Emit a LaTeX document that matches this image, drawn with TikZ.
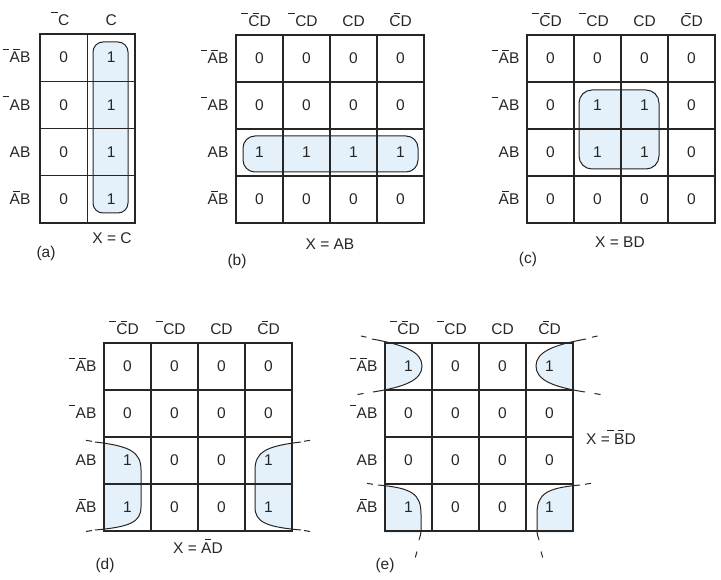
\documentclass[tikz,border=0pt]{standalone}
\usepackage{fontspec}
\setmainfont{Liberation Sans}
\newcommand\ov[1]{\makebox[0pt][r]{\smash{\rule[13.3pt]{6.5pt}{0.7pt}}\kern0.5pt}#1}
\definecolor{kfill}{HTML}{E4F1FB}
\definecolor{kline}{HTML}{262626}
\newcommand\kfour[4]{%
  \foreach \vals [count=\r] in {#4} {
    \foreach \v [count=\c] in \vals {
      \node[txt] (#1-\r-\c) at ({#2+47*(\c-0.5)},{#3+47*(\r-0.5)}) {\v};
    }
  }
  \foreach \i in {1,2,3} {
    \draw[grid] ({#2+47*\i},#3) -- ({#2+47*\i},{#3+188});
    \draw[grid] (#2,{#3+47*\i}) -- ({#2+188},{#3+47*\i});
  }
  \draw[frame] (#2,#3) rectangle ({#2+188},{#3+188});
  \node[txt] (#1-h1) at ({#2+23.5},{#3-13.5}) {\ov{C}\ov{D}};
  \node[txt] (#1-h2) at ({#2+70.5},{#3-13.5}) {\ov{C}D};
  \node[txt] (#1-h3) at ({#2+117.5},{#3-13.5}) {CD};
  \node[txt] (#1-h4) at ({#2+164.5},{#3-13.5}) {C\ov{D}};
  \node[txt] (#1-l1) at ({#2-18},{#3+23.5}) {\ov{A}\ov{B}};
  \node[txt] (#1-l2) at ({#2-18},{#3+70.5}) {\ov{A}B};
  \node[txt] (#1-l3) at ({#2-18},{#3+117.5}) {AB};
  \node[txt] (#1-l4) at ({#2-18},{#3+164.5}) {A\ov{B}};
}
\begin{document}
\begin{tikzpicture}[x=1pt,y=-1pt,
  txt/.style={font=\fontsize{15.5}{18}\selectfont, inner sep=0pt, text=kline},
  grid/.style={draw=kline, line width=1.1pt},
  frame/.style={draw=kline, line width=1.8pt},
  loopline/.style={draw=kline, line width=1pt},
  dashmark/.style={draw=kline, line width=1pt}]
\useasboundingbox (0,0) rectangle (721,580);

% ---------- (a) ----------
\fill[kfill, rounded corners=10pt] (93,42) rectangle (128,213);
\foreach \r/\p/\q in {1/0/1,2/0/1,3/0/1,4/0/1} {
  \node[txt] (a-\r-1) at (63.75,{34+47.2*(\r-0.5)}) {\p};
  \node[txt] (a-\r-2) at (111.25,{34+47.2*(\r-0.5)}) {\q};
}
\draw[grid] (87.5,34) -- (87.5,222.8);
\foreach \i in {1,2,3} { \draw[grid] (40,{34+47.2*\i}) -- (135,{34+47.2*\i}); }
\draw[frame] (40,34) rectangle (135,222.8);
\draw[loopline, rounded corners=10pt] (93,42) rectangle (128,213);
\node[txt] (a-h1) at (63.75,20.5) {\ov{C}};
\node[txt] (a-h2) at (111.25,20.5) {C};
\node[txt] (a-l1) at (20,57.6) {\ov{A}\ov{B}};
\node[txt] (a-l2) at (20,104.8) {\ov{A}B};
\node[txt] (a-l3) at (20,152) {AB};
\node[txt] (a-l4) at (20,199.2) {A\ov{B}};
\node[txt] (a-x) at (112,238) {X = C};
\node[txt] (a-cap) at (46,253) {(a)};

% ---------- (b) ----------
\fill[kfill, rounded corners=12pt] (243,136) rectangle (418,172);
\kfour{b}{236}{35}{{0,0,0,0},{0,0,0,0},{1,1,1,1},{0,0,0,0}}
\draw[loopline, rounded corners=12pt] (243,136) rectangle (418,172);
\node[txt] (b-x) at (330,244) {X = AB};
\node[txt] (b-cap) at (237,261) {(b)};

% ---------- (c) ----------
\fill[kfill, rounded corners=13pt] (579,90) rectangle (659,169);
\kfour{c}{527}{35}{{0,0,0,0},{0,1,1,0},{0,1,1,0},{0,0,0,0}}
\draw[loopline, rounded corners=13pt] (579,90) rectangle (659,169);
\node[txt] (c-x) at (620,242) {X = BD};
\node[txt] (c-cap) at (528,259) {(c)};

% ---------- (d) ----------
\begin{scope}
  \clip (104,343) rectangle (292,531);
  \fill[kfill] (95,442) .. controls (130,446) and (141,452) .. (141,470) -- (141,507)
     .. controls (141,522) and (130,527) .. (95,530) -- (80,530) -- (80,442) -- cycle;
  \fill[kfill] (301,442) .. controls (266,446) and (255,452) .. (255,470) -- (255,507)
     .. controls (255,522) and (266,527) .. (301,530) -- (320,530) -- (320,442) -- cycle;
\end{scope}
\kfour{d}{104}{343}{{0,0,0,0},{0,0,0,0},{1,0,0,1},{1,0,0,1}}
\draw[loopline] (95,442) .. controls (130,446) and (141,452) .. (141,470) -- (141,507)
     .. controls (141,522) and (130,527) .. (95,530);
\draw[loopline] (301,442) .. controls (266,446) and (255,452) .. (255,470) -- (255,507)
     .. controls (255,522) and (266,527) .. (301,530);
\draw[dashmark] (92,441.3) -- (86,440.3);
\draw[dashmark] (92,530.5) -- (86,531.5);
\draw[dashmark] (304,441.3) -- (310,440.3);
\draw[dashmark] (304,530.5) -- (310,531.5);
\node[txt] (d-x) at (198,548) {X = A\ov{D}};
\node[txt] (d-cap) at (105,565) {(d)};

% ---------- (e) ----------
\begin{scope}
  \clip (385,343) rectangle (573,532);
  \fill[kfill] (372,339) .. controls (405,345) and (422,352) .. (422,366)
     .. controls (422,380) and (405,387) .. (373,392) -- (360,392) -- (360,339) -- cycle;
  \fill[kfill] (586,339) .. controls (553,345) and (536,352) .. (536,366)
     .. controls (536,380) and (553,387) .. (585,392) -- (600,392) -- (600,339) -- cycle;
  \fill[kfill] (378,485) .. controls (412,488) and (421,494) .. (421,514) -- (421,530)
     .. controls (421,534) and (420,537) .. (419,540) -- (370,545) -- (370,485) -- cycle;
  \fill[kfill] (580,485) .. controls (546,488) and (537,494) .. (537,514) -- (537,530)
     .. controls (537,534) and (538,537) .. (539,540) -- (590,545) -- (590,485) -- cycle;
\end{scope}
\kfour{e}{385}{343}{{1,0,0,1},{0,0,0,0},{0,0,0,0},{1,0,0,1}}
\draw[loopline] (372,339) .. controls (405,345) and (422,352) .. (422,366)
     .. controls (422,380) and (405,387) .. (373,392);
\draw[loopline] (586,339) .. controls (553,345) and (536,352) .. (536,366)
     .. controls (536,380) and (553,387) .. (585,392);
\draw[loopline] (378,485) .. controls (412,488) and (421,494) .. (421,514) -- (421,530)
     .. controls (421,534) and (420,537) .. (419,540);
\draw[loopline] (580,485) .. controls (546,488) and (537,494) .. (537,514) -- (537,530)
     .. controls (537,534) and (538,537) .. (539,540);
\draw[dashmark] (361,336) -- (366.5,337.2);
\draw[dashmark] (357.5,394.5) -- (363.5,393.5);
\draw[dashmark] (592,337.2) -- (597.5,336);
\draw[dashmark] (594.5,393.5) -- (600.5,394.5);
\draw[dashmark] (367,483.3) -- (373,484.3);
\draw[dashmark] (585,484.3) -- (591,483.3);
\draw[dashmark] (417,551.5) -- (415.3,557.5);
\draw[dashmark] (541,551.5) -- (542.7,557.5);
\node[txt] (e-x) at (611,439) {X = \ov{B}\ov{D}};
\node[txt] (e-cap) at (385,565) {(e)};
\end{tikzpicture}
\end{document}
